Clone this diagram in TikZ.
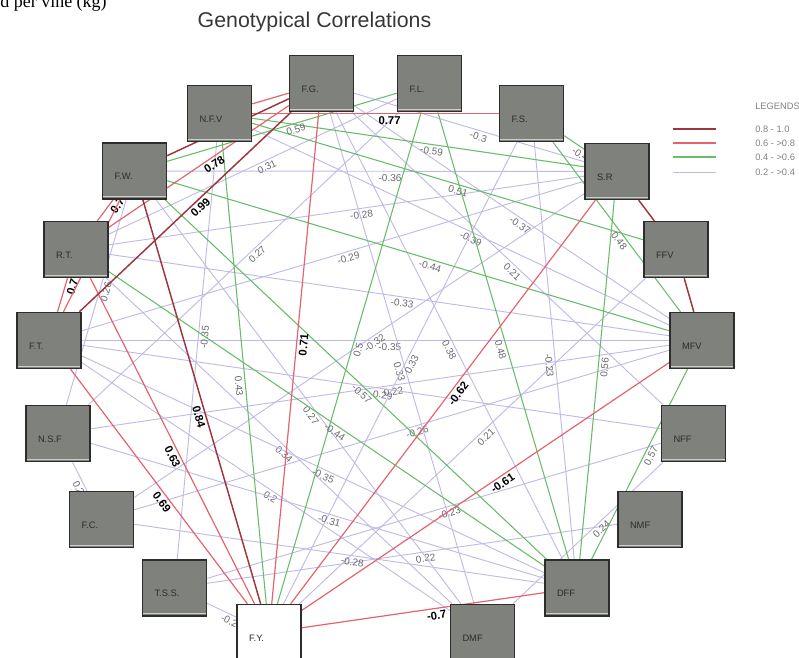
\documentclass[tikz,border=0pt]{standalone}
\usepackage{fontspec}
\setmainfont{Liberation Sans}
\newfontfamily\cutfont{Liberation Serif}
\usetikzlibrary{calc}
\definecolor{boxfill}{RGB}{127,129,124}
\definecolor{boxline}{RGB}{45,45,45}
\definecolor{boxshine}{RGB}{205,207,203}
\definecolor{drc}{RGB}{155,55,60}
\definecolor{rc}{RGB}{228,100,110}
\definecolor{gc}{RGB}{105,188,105}
\definecolor{pc}{RGB}{192,187,228}
\definecolor{lblgray}{RGB}{105,105,110}
\definecolor{leggray}{RGB}{130,130,130}
\definecolor{titlegray}{RGB}{55,55,55}
\pgfdeclarelayer{bg}
\pgfsetlayers{bg,main}

\begin{document}
\begin{tikzpicture}[x=0.75pt,y=-0.75pt,
  vbox/.style={draw=boxline, line width=1.1pt, fill=boxfill, minimum width=48pt, minimum height=42pt,
    inner sep=0pt, text width=30pt, align=left, text height=13pt, text depth=0pt,
    font=\fontsize{7}{8}\selectfont, text=boxline,
    path picture={\draw[boxshine, line width=1pt]
      ($(path picture bounding box.south west)!0.04!(path picture bounding box.north west)$) --
      ($(path picture bounding box.south east)!0.04!(path picture bounding box.north east)$);}},
  ybox/.style={vbox, fill=white, path picture={}},
  pline/.style={draw=pc, line width=0.7pt},
  gline/.style={draw=gc, line width=0.8pt},
  rline/.style={draw=rc, line width=0.9pt},
  drline/.style={draw=drc, line width=1.1pt},
  lbl/.style={sloped, anchor=north west, inner sep=1.8pt, text=lblgray, font=\fontsize{7.5}{8}\selectfont},
  blbl/.style={lbl, text=black, font=\bfseries\fontsize{8.5}{9}\selectfont}]

\useasboundingbox (0,0) rectangle (799,657);

% caption cut off at the top
\node [anchor=base west, inner sep=0pt] (cut) at (0,7) {\cutfont\fontsize{13.5}{15}\selectfont d per vine (kg)};
\node [text=titlegray, inner sep=0pt] (title) at (314.5,22) {\fontsize{16}{19}\selectfont Genotypical Correlations};

% traits
\node [vbox] (FG) at (321.5,83.5) {F.G.};
\node [vbox] (FL) at (429.5,83.5) {F.L.};
\node [vbox] (FS) at (531.5,113.5) {F.S.};
\node [vbox] (SR) at (617,171.5) {S.R};
\node [vbox] (FFV) at (676,249.5) {FFV};
\node [vbox] (MFV) at (702,340.5) {MFV};
\node [vbox] (NFF) at (693.5,433.5) {NFF};
\node [vbox] (NMF) at (650,519.5) {NMF};
\node [vbox] (DFF) at (577,588) {DFF};
\node [vbox] (DMF) at (482.5,632.5) {DMF};
\node [ybox] (FY) at (269,632.5) {F.Y.};
\node [vbox] (TSS) at (174.5,588) {T.S.S.};
\node [vbox] (FC) at (101.5,519.5) {F.C.};
\node [vbox] (NSF) at (58,433.5) {N.S.F};
\node [vbox] (FT) at (49,340.5) {F.T.};
\node [vbox] (RT) at (76,249.5) {R.T.};
\node [vbox] (FW) at (134.5,171) {F.W.};
\node [vbox] (NFV) at (219.5,113.5) {N.F.V};

\begin{pgfonlayer}{bg}
% 0.2 - >0.4
\draw [pline] (FG) -- node[lbl]{-0.3} (SR);
\draw [pline] (FW) -- node[lbl]{-0.36} (SR);
\draw [pline] (RT) -- node[lbl]{-0.28} (SR);
\draw [pline] (FT) -- node[lbl]{-0.29} (SR);
\draw [pline] (FG) -- node[lbl]{-0.37} (MFV);
\draw [pline] (NFV) -- node[lbl]{-0.39} (MFV);
\draw [pline] (RT) -- node[lbl]{-0.33} (MFV);
\draw [pline] (FT) -- node[lbl]{-0.35} (MFV);
\draw [pline] (NSF) -- node[lbl]{0.22} (MFV);
\draw [pline] (FC) -- node[lbl]{-0.26} (MFV);
\draw [pline] (FG) -- node[lbl]{0.21} (NFF);
\draw [pline] (FT) -- node[lbl]{0.29} (NFF);
\draw [pline] (TSS) -- node[lbl]{-0.23} (NFF);
\draw [pline] (TSS) -- node[lbl]{0.22} (NMF);
\draw [pline] (RT) -- node[lbl]{0.31} (FL);
\draw [pline] (NSF) -- node[lbl]{0.27} (FL);
\draw [pline] (NSF) -- node[lbl]{0.26} (FW);
\draw [pline] (TSS) -- node[lbl]{-0.35} (NFV);
\draw [pline] (RT) -- node[lbl]{0.34} (DMF);
\draw [pline] (FT) -- node[lbl]{0.2} (DMF);
\draw [pline] (FW) -- node[lbl]{0.27} (DMF);
\draw [pline] (FG) -- node[lbl]{0.33} (DMF);
\draw [pline] (NFF) -- node[lbl]{0.24} (DMF);
\draw [pline] (NSF) -- node[lbl]{0.2} (FC);
\draw [pline] (TSS) -- node[lbl]{-0.21} (FY);
\draw [pline] (FS) -- node[lbl]{0.33} (FY);
\draw [pline] (FY) -- node[lbl]{0.21} (FFV);
\draw [pline] (FT) -- node[lbl]{-0.35} (DFF);
\draw [pline] (NSF) -- node[lbl]{-0.31} (DFF);
\draw [pline] (FC) -- node[lbl]{-0.28} (DFF);
\draw [pline] (FG) -- node[lbl]{0.38} (DFF);
\draw [pline] (FS) -- node[lbl]{-0.23} (DFF);
\draw [pline] (SR) -- node[lbl]{-0.32} (FC);
% 0.4 - >0.6
\draw [gline] (NFV) -- node[lbl]{-0.59} (SR);
\draw [gline] (NFV) -- node[lbl]{0.51} (FFV);
\draw [gline] (FW) -- node[lbl]{-0.44} (MFV);
\draw [gline] (FS) -- node[lbl]{0.48} (MFV);
\draw [gline] (FS) -- node[lbl]{-0.4} (SR);
\draw [gline] (FW) -- node[lbl]{0.59} (FL);
\draw [gline] (NFV) -- node[lbl]{0.43} (FY);
\draw [gline] (FL) -- node[lbl]{0.5} (FY);
\draw [gline] (FW) -- node[lbl]{-0.57} (DFF);
\draw [gline] (RT) -- node[lbl]{-0.44} (DFF);
\draw [gline] (FL) -- node[lbl]{0.48} (DFF);
\draw [gline] (SR) -- node[lbl]{0.56} (DFF);
\draw [gline] (MFV) -- node[lbl]{0.57} (DFF);
% 0.6 - >0.8
\draw [rline] (NFV) -- node[blbl]{0.77} (FS);
\draw [rline] (NFV) -- (FG);
\draw [rline] (RT) -- node[blbl]{0.78} (FG);
\draw [rline] (RT) -- node[blbl]{0.73} (FW);
\draw [rline] (FT) -- node[blbl]{0.7} (RT);
\draw [rline] (FT) -- (FW);
\draw [rline] (RT) -- node[blbl]{0.63} (FY);
\draw [rline] (FT) -- node[blbl]{0.69} (FY);
\draw [rline] (FG) -- node[blbl]{0.71} (FY);
\draw [rline] (FY) -- node[blbl]{-0.7} (DFF);
\draw [rline] (FY) -- node[blbl]{-0.61} (MFV);
\draw [rline] (FY) -- node[blbl]{-0.62} (SR);
% 0.8 - 1.0
\draw [drline] (FT) -- node[blbl]{0.99} (FG);
\draw [drline] (FW) -- node[blbl]{0.84} (FY);
\draw [drline] (FW) -- (FG);
\draw [drline] (SR) -- (FFV);
\draw [drline] (FFV) -- (MFV);
\end{pgfonlayer}

% legend
\node [anchor=west, inner sep=0pt, text=leggray, font=\fontsize{7}{8}\selectfont] (leg) at (755,106) {LEGENDS};
\node [anchor=west, inner sep=0pt, text=leggray, font=\fontsize{7}{8}\selectfont] (leg1) at (755,129) {0.8 - 1.0};
\node [anchor=west, inner sep=0pt, text=leggray, font=\fontsize{7}{8}\selectfont] (leg2) at (755,143) {0.6 - >0.8};
\node [anchor=west, inner sep=0pt, text=leggray, font=\fontsize{7}{8}\selectfont] (leg3) at (755,157) {0.4 - >0.6};
\node [anchor=west, inner sep=0pt, text=leggray, font=\fontsize{7}{8}\selectfont] (leg4) at (755,172) {0.2 - >0.4};
\draw [drline] (673,129) -- (716,129);
\draw [rline] (673,143) -- (716,143);
\draw [gline] (673,157) -- (716,157);
\draw [pline] (673,172) -- (716,172);
\end{tikzpicture}
\end{document}
